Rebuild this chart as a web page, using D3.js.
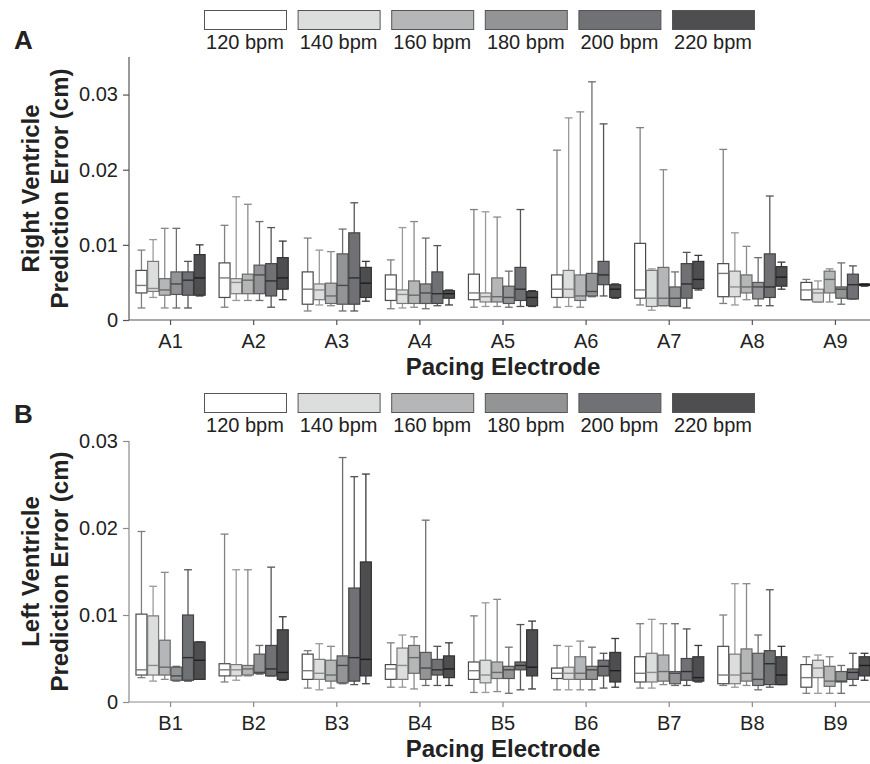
<!DOCTYPE html>
<html>
<head>
<meta charset="utf-8">
<script src="https://cdn.jsdelivr.net/npm/d3@7"></script>
<style>
  body { margin: 0; background: #fff; }
  svg { display: block; font-family: "Liberation Sans", Arial, sans-serif; }
</style>
</head>
<body>
<svg width="870" height="764"></svg>
<script>
// pacing rates (one box per rate inside each electrode group)
const rates = ["120 bpm", "140 bpm", "160 bpm", "180 bpm", "200 bpm", "220 bpm"];
const rvElectrodes = ["A1", "A2", "A3", "A4", "A5", "A6", "A7", "A8", "A9"];
const lvElectrodes = ["B1", "B2", "B3", "B4", "B5", "B6", "B7", "B8", "B9"];

// [whisker low, q1, median, q3, whisker high] in cm, per electrode then per rate
const rvStats = [
  [[0.0016, 0.0036, 0.0046, 0.0066, 0.0093], [0.0030, 0.0038, 0.0042, 0.0078, 0.0107], [0.0016, 0.0033, 0.0040, 0.0055, 0.0122],
   [0.0016, 0.0034, 0.0048, 0.0064, 0.0122], [0.0016, 0.0033, 0.0053, 0.0064, 0.0078], [0.0032, 0.0033, 0.0056, 0.0087, 0.0100]],
  [[0.0017, 0.0030, 0.0056, 0.0076, 0.0126], [0.0026, 0.0035, 0.0050, 0.0055, 0.0164], [0.0026, 0.0035, 0.0053, 0.0061, 0.0154],
   [0.0026, 0.0035, 0.0060, 0.0073, 0.0131], [0.0017, 0.0032, 0.0052, 0.0075, 0.0123], [0.0027, 0.0041, 0.0056, 0.0083, 0.0105]],
  [[0.0012, 0.0021, 0.0041, 0.0064, 0.0109], [0.0020, 0.0027, 0.0040, 0.0048, 0.0093], [0.0019, 0.0022, 0.0032, 0.0049, 0.0091],
   [0.0012, 0.0021, 0.0046, 0.0088, 0.0121], [0.0012, 0.0021, 0.0056, 0.0116, 0.0156], [0.0025, 0.0030, 0.0049, 0.0070, 0.0078]],
  [[0.0015, 0.0026, 0.0041, 0.0060, 0.0080], [0.0016, 0.0022, 0.0034, 0.0040, 0.0123], [0.0017, 0.0022, 0.0033, 0.0052, 0.0131],
   [0.0015, 0.0022, 0.0036, 0.0048, 0.0109], [0.0019, 0.0022, 0.0035, 0.0064, 0.0099], [0.0020, 0.0029, 0.0035, 0.0039, 0.0040]],
  [[0.0017, 0.0027, 0.0036, 0.0061, 0.0147], [0.0018, 0.0024, 0.0031, 0.0036, 0.0144], [0.0018, 0.0024, 0.0031, 0.0056, 0.0137],
   [0.0017, 0.0022, 0.0030, 0.0045, 0.0065], [0.0018, 0.0026, 0.0041, 0.0070, 0.0147], [0.0018, 0.0019, 0.0030, 0.0038, 0.0039]],
  [[0.0017, 0.0030, 0.0041, 0.0060, 0.0226], [0.0018, 0.0030, 0.0041, 0.0066, 0.0269], [0.0017, 0.0026, 0.0032, 0.0060, 0.0277],
   [0.0031, 0.0032, 0.0038, 0.0062, 0.0317], [0.0032, 0.0047, 0.0060, 0.0078, 0.0261], [0.0029, 0.0030, 0.0041, 0.0047, 0.0048]],
  [[0.0020, 0.0029, 0.0040, 0.0102, 0.0256], [0.0013, 0.0018, 0.0029, 0.0066, 0.0068], [0.0019, 0.0019, 0.0029, 0.0070, 0.0200],
   [0.0018, 0.0018, 0.0029, 0.0044, 0.0064], [0.0016, 0.0029, 0.0048, 0.0075, 0.0090], [0.0040, 0.0042, 0.0054, 0.0078, 0.0086]],
  [[0.0022, 0.0031, 0.0062, 0.0075, 0.0227], [0.0020, 0.0031, 0.0044, 0.0065, 0.0116], [0.0027, 0.0036, 0.0044, 0.0060, 0.0098],
   [0.0019, 0.0028, 0.0044, 0.0050, 0.0083], [0.0019, 0.0030, 0.0044, 0.0088, 0.0165], [0.0041, 0.0045, 0.0057, 0.0071, 0.0077]],
  [[0.0027, 0.0027, 0.0040, 0.0050, 0.0054], [0.0024, 0.0024, 0.0036, 0.0041, 0.0052], [0.0024, 0.0036, 0.0054, 0.0065, 0.0068],
   [0.0021, 0.0029, 0.0041, 0.0044, 0.0076], [0.0028, 0.0028, 0.0047, 0.0061, 0.0072], [0.0045, 0.0046, 0.0047, 0.0048, 0.0048]]
];

const lvStats = [
  [[0.0028, 0.0031, 0.0037, 0.0101, 0.0196], [0.0024, 0.0031, 0.0042, 0.0099, 0.0133], [0.0026, 0.0031, 0.0040, 0.0071, 0.0149],
   [0.0024, 0.0025, 0.0030, 0.0040, 0.0041], [0.0024, 0.0025, 0.0051, 0.0100, 0.0152], [0.0026, 0.0026, 0.0048, 0.0069, 0.0069]],
  [[0.0023, 0.0030, 0.0037, 0.0044, 0.0193], [0.0025, 0.0030, 0.0037, 0.0043, 0.0152], [0.0030, 0.0031, 0.0038, 0.0042, 0.0152],
   [0.0032, 0.0033, 0.0034, 0.0055, 0.0065], [0.0030, 0.0030, 0.0038, 0.0065, 0.0155], [0.0025, 0.0026, 0.0034, 0.0083, 0.0098]],
  [[0.0016, 0.0026, 0.0036, 0.0055, 0.0059], [0.0014, 0.0026, 0.0033, 0.0049, 0.0067], [0.0016, 0.0024, 0.0031, 0.0048, 0.0064],
   [0.0021, 0.0022, 0.0042, 0.0053, 0.0281], [0.0020, 0.0024, 0.0051, 0.0131, 0.0259], [0.0021, 0.0030, 0.0049, 0.0161, 0.0262]],
  [[0.0017, 0.0026, 0.0038, 0.0043, 0.0068], [0.0017, 0.0026, 0.0042, 0.0062, 0.0077], [0.0015, 0.0033, 0.0051, 0.0065, 0.0075],
   [0.0019, 0.0026, 0.0039, 0.0057, 0.0209], [0.0019, 0.0031, 0.0037, 0.0049, 0.0064], [0.0019, 0.0028, 0.0038, 0.0053, 0.0068]],
  [[0.0011, 0.0026, 0.0036, 0.0046, 0.0099], [0.0011, 0.0022, 0.0031, 0.0048, 0.0114], [0.0012, 0.0027, 0.0034, 0.0046, 0.0118],
   [0.0010, 0.0027, 0.0037, 0.0041, 0.0063], [0.0014, 0.0037, 0.0042, 0.0046, 0.0089], [0.0015, 0.0030, 0.0040, 0.0083, 0.0093]],
  [[0.0014, 0.0027, 0.0033, 0.0039, 0.0065], [0.0014, 0.0026, 0.0033, 0.0040, 0.0064], [0.0014, 0.0026, 0.0033, 0.0052, 0.0070],
   [0.0014, 0.0026, 0.0037, 0.0041, 0.0063], [0.0016, 0.0030, 0.0041, 0.0048, 0.0056], [0.0017, 0.0023, 0.0036, 0.0057, 0.0073]],
  [[0.0016, 0.0023, 0.0033, 0.0052, 0.0090], [0.0016, 0.0023, 0.0034, 0.0056, 0.0095], [0.0020, 0.0024, 0.0035, 0.0054, 0.0090],
   [0.0019, 0.0021, 0.0033, 0.0035, 0.0090], [0.0019, 0.0025, 0.0035, 0.0050, 0.0084], [0.0023, 0.0024, 0.0028, 0.0052, 0.0065]],
  [[0.0019, 0.0021, 0.0031, 0.0064, 0.0100], [0.0017, 0.0021, 0.0031, 0.0055, 0.0136], [0.0019, 0.0024, 0.0033, 0.0061, 0.0136],
   [0.0014, 0.0019, 0.0026, 0.0056, 0.0077], [0.0017, 0.0020, 0.0044, 0.0059, 0.0129], [0.0020, 0.0020, 0.0031, 0.0052, 0.0064]],
  [[0.0010, 0.0017, 0.0028, 0.0043, 0.0052], [0.0010, 0.0028, 0.0039, 0.0048, 0.0054], [0.0010, 0.0018, 0.0024, 0.0041, 0.0052],
   [0.0010, 0.0023, 0.0024, 0.0035, 0.0042], [0.0019, 0.0026, 0.0034, 0.0038, 0.0056], [0.0025, 0.0030, 0.0042, 0.0052, 0.0056]]
];

const yTicks = [0, 0.01, 0.02, 0.03];

// greys per rate: box fill, box outline, whisker, median
const fills    = ["#ffffff", "#dcdddd", "#b5b6b7", "#939496", "#707174", "#4e4e50"];
const outlines = ["#4a4a4a", "#7a7a7a", "#6a6a6a", "#555555", "#444444", "#333333"];
const whiskers = ["#808080", "#9a9a9a", "#8a8a8a", "#6e6e6e", "#555555", "#3a3a3a"];
const medians  = ["#7a7a7a", "#8c8c8c", "#6a6a6a", "#4a4a4a", "#2e2e2e", "#1e1e1e"];

const svg = d3.select("svg");
const xLeft = 129, xRight = 877;

function drawPanel(o) {
  const g = svg.append("g");

  const x = d3.scaleBand().domain(o.cats).range([xLeft, xRight]);
  const inner = d3.scaleBand().domain(rates).range([0, x.bandwidth()])
    .paddingInner(0.06).paddingOuter(0.6);
  const y = d3.scaleLinear().domain(o.yDomain).range([o.yBottom, o.yTop]);

  // legend row above the plot
  const lx = d3.scaleBand().domain(rates).range([204, 754]).paddingInner(0.124).paddingOuter(0);
  const leg = g.append("g");
  leg.selectAll("rect").data(rates).join("rect")
    .attr("x", d => lx(d) + 0.5).attr("y", o.legendY + 0.5)
    .attr("width", lx.bandwidth()).attr("height", 19)
    .attr("fill", (d, i) => fills[i]).attr("stroke", "#555").attr("stroke-width", 1);
  leg.selectAll("text").data(rates).join("text")
    .attr("x", d => lx(d) + lx.bandwidth() / 2).attr("y", o.legendY + 39)
    .attr("text-anchor", "middle").attr("font-size", 20).attr("fill", "#222")
    .text(d => d);

  // axes
  const yAxis = d3.axisLeft(y).tickValues(yTicks).tickSize(6).tickPadding(5)
    .tickFormat(d => d === 0 ? "0" : d3.format(".2f")(d));
  const ya = g.append("g").attr("transform", `translate(${xLeft},0)`).call(yAxis);
  ya.select(".domain").attr("d", `M0,${o.yTop}V${o.yBottom}`);

  const xAxis = d3.axisBottom(x).tickSize(5).tickPadding(9);
  const xa = g.append("g").attr("transform", `translate(0,${o.yBottom})`).call(xAxis);
  xa.select(".domain").attr("d", `M${xLeft},0H${xRight}`);

  [ya, xa].forEach(a => {
    a.selectAll(".domain, .tick line").attr("stroke", o.axisColor).attr("stroke-width", 1.2);
    a.selectAll("text").attr("font-size", 20).attr("fill", "#222")
      .attr("font-family", "Liberation Sans, Arial, sans-serif");
  });

  // boxes
  o.cats.forEach((cat, ci) => {
    const grp = g.append("g").attr("transform", `translate(${x(cat)},0)`);
    o.stats[ci].forEach((s, ri) => {
      const [lo, q1, med, q3, hi] = s;
      const bx = inner(rates[ri]);
      const bw = inner.bandwidth();
      const cx = bx + bw / 2;
      const cap = bw * 0.36;
      const w = grp.append("g").attr("stroke", whiskers[ri]).attr("stroke-width", 1.3);
      w.append("line").attr("x1", cx).attr("x2", cx).attr("y1", y(hi)).attr("y2", y(q3));
      w.append("line").attr("x1", cx).attr("x2", cx).attr("y1", y(q1)).attr("y2", y(lo));
      w.append("line").attr("x1", cx - cap).attr("x2", cx + cap).attr("y1", y(hi)).attr("y2", y(hi));
      w.append("line").attr("x1", cx - cap).attr("x2", cx + cap).attr("y1", y(lo)).attr("y2", y(lo));
      grp.append("rect")
        .attr("x", bx).attr("y", y(q3))
        .attr("width", bw).attr("height", Math.max(1, y(q1) - y(q3)))
        .attr("fill", fills[ri]).attr("stroke", outlines[ri]).attr("stroke-width", 1.2);
      grp.append("line")
        .attr("x1", bx).attr("x2", bx + bw).attr("y1", y(med)).attr("y2", y(med))
        .attr("stroke", medians[ri]).attr("stroke-width", 1.4);
    });
  });

  // titles
  g.append("text")
    .attr("x", (xLeft + xRight) / 2).attr("y", o.yBottom + 55)
    .attr("text-anchor", "middle").attr("font-size", 24).attr("font-weight", "bold")
    .attr("fill", "#222").text("Pacing Electrode");

  const yMid = (o.yTop + o.yBottom) / 2;
  const yt = g.append("text")
    .attr("transform", `translate(0,${yMid}) rotate(-90)`)
    .attr("text-anchor", "middle").attr("font-size", 24).attr("font-weight", "bold")
    .attr("fill", "#222");
  yt.append("tspan").attr("x", 0).attr("y", 39).text(o.yTitle);
  yt.append("tspan").attr("x", 0).attr("y", 68).text("Prediction Error (cm)");

  g.append("text")
    .attr("x", 14).attr("y", o.labelY)
    .attr("font-size", 26).attr("font-weight", "bold").attr("fill", "#222")
    .text(o.label);
}

drawPanel({
  label: "A", labelY: 49,
  cats: rvElectrodes, stats: rvStats,
  yDomain: [0, 0.035], yTop: 57, yBottom: 320,
  legendY: 10, axisColor: "#555",
  yTitle: "Right Ventricle"
});

drawPanel({
  label: "B", labelY: 423,
  cats: lvElectrodes, stats: lvStats,
  yDomain: [0, 0.03], yTop: 441, yBottom: 702,
  legendY: 393, axisColor: "#8a8a8a",
  yTitle: "Left Ventricle"
});
</script>
</body>
</html>
